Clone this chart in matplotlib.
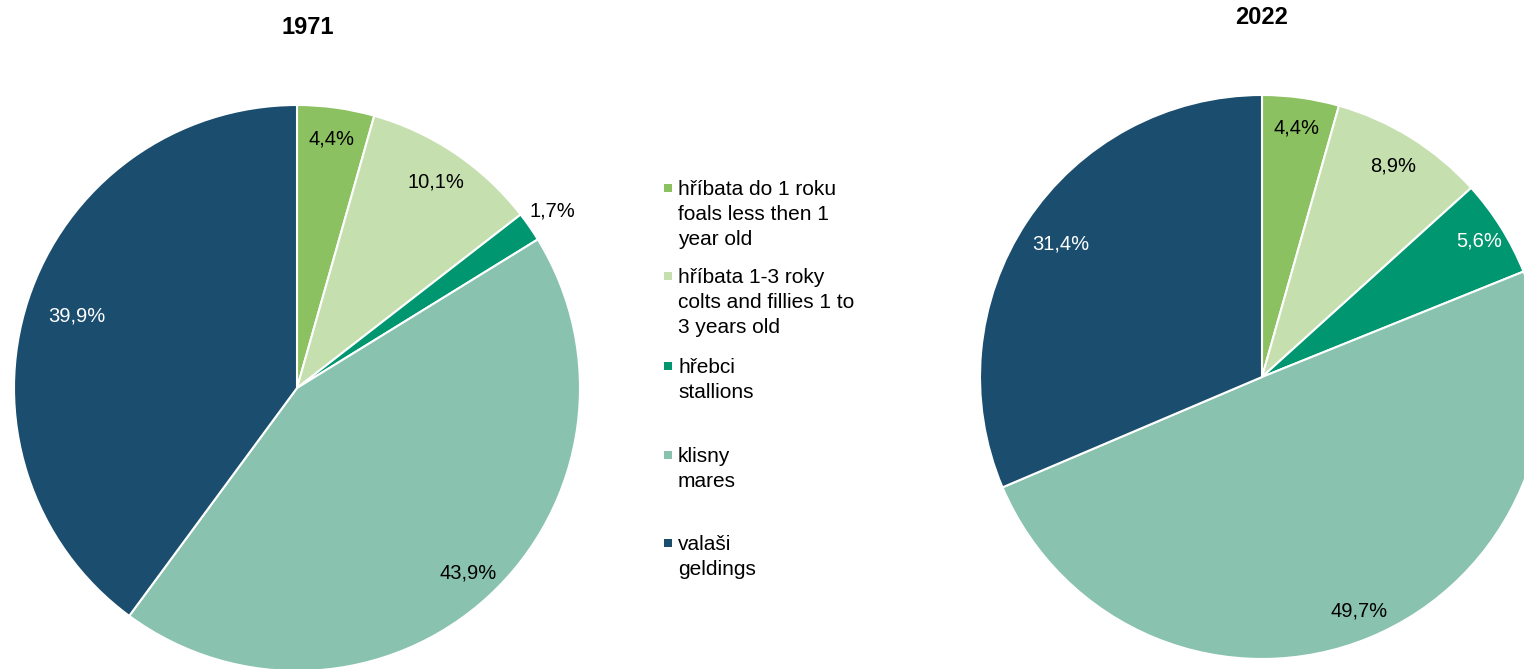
import numpy as np
import matplotlib.pyplot as plt
from matplotlib.patches import Rectangle

plt.rcParams['font.family'] = ['Liberation Sans', 'DejaVu Sans']

# data
categories = ['hříbata do 1 roku\nfoals less then 1\nyear old',
              'hříbata 1-3 roky\ncolts and fillies 1 to\n3 years old',
              'hřebci\nstallions',
              'klisny\nmares',
              'valaši\ngeldings']
values_1971 = [4.4, 10.1, 1.7, 43.9, 39.9]
values_2022 = [4.4, 8.9, 5.6, 49.7, 31.4]
colors = ['#8BC160', '#C5DFAF', '#00966F', '#89C2AE', '#1A4D6E']

W, H = 1524, 669
fig = plt.figure(figsize=(W / 100, H / 100), dpi=100)


def fmt(p):
    return f'{p:.1f}'.replace('.', ',') + '%'


def draw_pie(box, values, text_colors, dists):
    x0, y0, x1, y1 = box  # pixel box, y from top
    ax = fig.add_axes([x0 / W, (H - y1) / H, (x1 - x0) / W, (y1 - y0) / H])
    wedges, texts, autotexts = ax.pie(
        values, colors=colors, startangle=90, counterclock=False,
        autopct=fmt, pctdistance=0.88, radius=1,
        wedgeprops=dict(edgecolor='white', linewidth=1.5),
        textprops=dict(fontsize=14.5))
    for w, t, c, d in zip(wedges, autotexts, text_colors, dists):
        ang = np.deg2rad((w.theta1 + w.theta2) / 2)
        t.set_position((d * np.cos(ang), d * np.sin(ang)))
        t.set_color(c)
    ax.set_xlim(-1, 1)
    ax.set_ylim(-1, 1)
    ax.set_aspect('auto')
    ax.axis('off')
    return ax


draw_pie((14, 105, 580, 671), values_1971,
         ['black', 'black', 'black', 'black', 'white'],
         [0.89, 0.88, 1.10, 0.89, 0.82])
draw_pie((980, 95, 1544, 659), values_2022,
         ['black', 'black', 'white', 'black', 'white'],
         [0.89, 0.88, 0.91, 0.90, 0.855])

fig.text(308 / W, 1 - 28 / H, '1971', ha='center', va='center',
         fontsize=17, fontweight='bold')
fig.text(1262 / W, 1 - 17 / H, '2022', ha='center', va='center',
         fontsize=17, fontweight='bold')

# legend
legend_tops = [188, 276, 366, 455, 543]
for lab, col, yt in zip(categories, colors, legend_tops):
    fig.patches.append(Rectangle((664 / W, 1 - (yt + 4) / H), 8 / W, 8 / H,
                                 transform=fig.transFigure, facecolor=col,
                                 edgecolor='none'))
    fig.text(678 / W, 1 - (yt - 8) / H, lab, ha='left', va='top',
             fontsize=15, linespacing=1.39)

plt.savefig('out.png', dpi=100)
